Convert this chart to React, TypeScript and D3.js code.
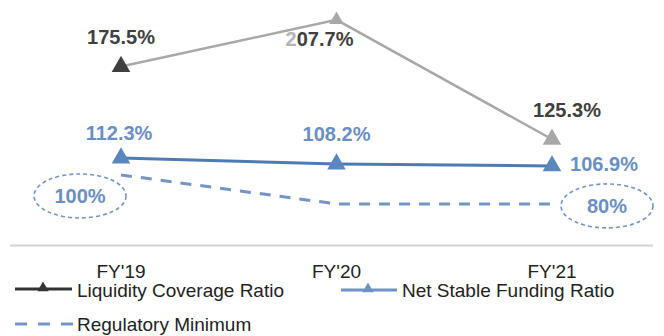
import React from "react";
import * as d3 from "d3";

const categories = ["FY'19", "FY'20", "FY'21"];
const lcrValues = [175.5, 207.7, 125.3];
const lcrLabels = ["175.5%", "207.7%", "125.3%"];
const nsfrValues = [112.3, 108.2, 106.9];
const nsfrLabels = ["112.3%", "108.2%", "106.9%"];
const regValues = [100, 80, 80];
const regLabels = ["100%", "", "80%"];
const legendItems = ["Liquidity Coverage Ratio", "Net Stable Funding Ratio", "Regulatory Minimum"];

const W = 664;
const H = 336;
const FONT = "'Liberation Sans', Arial, sans-serif";

export default function App() {
  const x = d3.scalePoint<string>().domain(categories).range([121, 552]);
  const y = d3.scaleLinear().domain([52, 210]).range([245.5, 16.5]);

  const line = d3
    .line<number>()
    .x((_, i) => x(categories[i]) as number)
    .y((v) => y(v));

  const tri = d3.symbol().type(d3.symbolTriangle);
  const bigTri = tri.size(150)() as string;
  const midTri = tri.size(90)() as string;
  const smallTri = tri.size(55)() as string;

  const lcrMarkerColors = ["#404040", "#a8a8a8", "#a8a8a8"];
  const lcrMarkerShapes = [bigTri, midTri, bigTri];
  const lcrLabelPos = [
    { dx: 0, dy: -23 },
    { dx: -17, dy: 26 },
    { dx: 15, dy: -22 },
  ];
  const nsfrLabelPos = [
    { dx: -2, dy: -18 },
    { dx: 0, dy: -23 },
    { dx: 52, dy: 5 },
  ];
  const regEllipse = [
    { dx: -41, dy: 20 },
    null,
    { dx: 55, dy: 1 },
  ];

  const x0 = (x(categories[0]) as number) - 111;
  const x1 = (x(categories[categories.length - 1]) as number) + 101;

  return (
    <svg
      width={W}
      height={H}
      style={{ position: "absolute", left: 0, top: 0, background: "#fff" }}
      fontFamily={FONT}
    >
      {/* axis baseline */}
      <line x1={x0} x2={x1} y1={y(52)} y2={y(52)} stroke="#d4d4d4" strokeWidth={2} />
      {categories.map((c) => (
        <text
          key={c}
          x={x(c)}
          y={278}
          textAnchor="middle"
          fontSize={19}
          fill="#222"
        >
          {c}
        </text>
      ))}

      {/* regulatory minimum */}
      <path
        d={line(regValues) as string}
        fill="none"
        stroke="#7195c5"
        strokeWidth={3}
        strokeDasharray="11 9"
        transform="translate(0,-1)"
      />

      {/* LCR */}
      <path d={line(lcrValues) as string} fill="none" stroke="#a8a8a8" strokeWidth={2.5} />
      {lcrValues.map((v, i) => (
        <path
          key={"lm" + i}
          d={lcrMarkerShapes[i]}
          transform={`translate(${x(categories[i])},${y(v)})`}
          fill={lcrMarkerColors[i]}
        />
      ))}

      {/* NSFR */}
      <path d={line(nsfrValues) as string} fill="none" stroke="#4d7cb3" strokeWidth={3} />
      {nsfrValues.map((v, i) => (
        <path
          key={"nm" + i}
          d={bigTri}
          transform={`translate(${x(categories[i])},${y(v)})`}
          fill="#5a87bd"
        />
      ))}

      {/* LCR labels */}
      {lcrValues.map((v, i) => (
        <text
          key={"ll" + i}
          x={(x(categories[i]) as number) + lcrLabelPos[i].dx}
          y={y(v) + lcrLabelPos[i].dy}
          textAnchor="middle"
          fontSize={20}
          fontWeight="bold"
          fill="#404040"
        >
          {i === 1 ? (
            <>
              <tspan fill="#b4b4b4">{lcrLabels[i].slice(0, 1)}</tspan>
              {lcrLabels[i].slice(1)}
            </>
          ) : (
            lcrLabels[i]
          )}
        </text>
      ))}

      {/* NSFR labels */}
      {nsfrValues.map((v, i) => (
        <text
          key={"nl" + i}
          x={(x(categories[i]) as number) + nsfrLabelPos[i].dx}
          y={y(v) + nsfrLabelPos[i].dy}
          textAnchor="middle"
          fontSize={20}
          fontWeight="bold"
          fill="#6a8fc4"
        >
          {nsfrLabels[i]}
        </text>
      ))}

      {/* regulatory ellipses */}
      {regValues.map((v, i) => {
        const e = regEllipse[i];
        if (!e) return null;
        const cx = (x(categories[i]) as number) + e.dx;
        const cy = y(v) + e.dy;
        return (
          <g key={"re" + i}>
            <ellipse
              cx={cx}
              cy={cy}
              rx={46}
              ry={22}
              fill="none"
              stroke="#7195c5"
              strokeWidth={1.6}
              strokeDasharray="4 3"
            />
            <text
              x={cx}
              y={cy + 7.5}
              textAnchor="middle"
              fontSize={20}
              fontWeight="bold"
              fill="#6a8fc4"
            >
              {regLabels[i]}
            </text>
          </g>
        );
      })}

      {/* legend */}
      <g>
        <line x1={15} x2={72} y1={289} y2={289} stroke="#333" strokeWidth={3} />
        <path d={smallTri} transform="translate(43,288)" fill="#333" />
        <text x={77} y={297} fontSize={19} fill="#222">
          {legendItems[0]}
        </text>

        <line x1={341} x2={397} y1={290} y2={290} stroke="#6f93c4" strokeWidth={3} />
        <path d={smallTri} transform="translate(368,289)" fill="#6f93c4" />
        <text x={402} y={297} fontSize={19} fill="#222">
          {legendItems[1]}
        </text>

        <line
          x1={15}
          x2={73}
          y1={324}
          y2={324}
          stroke="#7195c5"
          strokeWidth={3}
          strokeDasharray="12 11"
        />
        <text x={77} y={331} fontSize={19} fill="#222">
          {legendItems[2]}
        </text>
      </g>
    </svg>
  );
}
